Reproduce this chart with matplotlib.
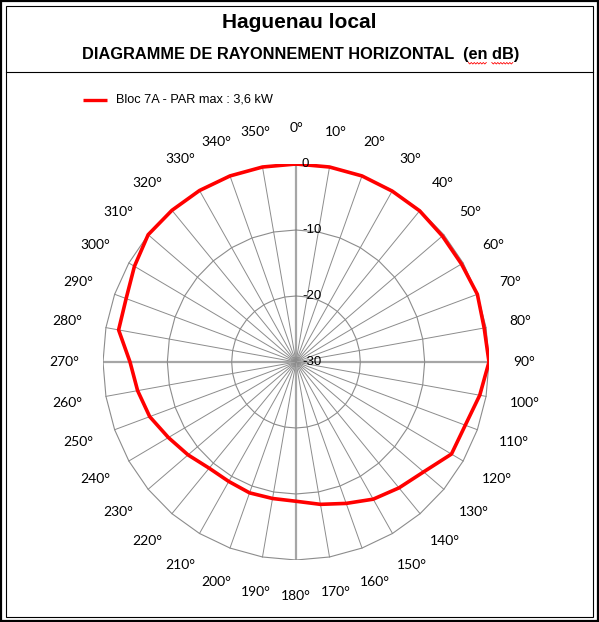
import numpy as np
import matplotlib
matplotlib.use("Agg")
import matplotlib.pyplot as plt
from matplotlib.patches import Rectangle

title = "Haguenau local"
subtitle = "DIAGRAMME DE RAYONNEMENT HORIZONTAL  (en dB)"
series_name = "Bloc 7A - PAR max : 3,6 kW"

angles = list(range(0, 360, 10))
att_db = [0, 0, 0, -0.1, -0.1, -0.3, -0.3, 0, -0.3,
          0, -1.0, -2.0, -2.1, -4.1, -5.1, -6.0, -7.2, -8.1,
          -8.9, -9.0, -8.9, -9.1, -9.0, -8.1, -7.1, -5.8, -5.0,
          -4.2, -2.0, -1.9, -1.0, 0, 0, 0, 0, 0]
ring_values = [-30, -20, -10, 0]
vmin, vmax = -30, 0

W, H = 599, 622
fig = plt.figure(figsize=(W / 100, H / 100), dpi=100)

# background axes in pixel units for the frame and header
bg = fig.add_axes([0, 0, 1, 1])
bg.set_xlim(0, W)
bg.set_ylim(H, 0)
bg.axis("off")
bg.add_patch(Rectangle((1, 1), W - 2.5, H - 2.5, fill=False, lw=1.6, ec="black"))
bg.add_patch(Rectangle((5.5, 5.5), W - 11.5, H - 11, fill=False, lw=0.8, ec="black"))
bg.plot([5.5, W - 6], [72, 72], color="black", lw=0.8)

t1 = bg.text(W / 2, 23, title, ha="center", va="center", fontsize=15,
             fontweight="bold", family="Liberation Sans")
t2 = bg.text(W / 2 + 1, 55, subtitle, ha="center", va="center", fontsize=11.8,
             fontweight="bold", family="Liberation Sans")

# legend
bg.plot([83, 107], [100, 100], color="red", lw=2.4, solid_capstyle="butt")
bg.text(116, 100, series_name, ha="left", va="center", fontsize=9.2,
        family="Liberation Sans")

# radar chart axes: center (296, 362), half sizes 193 x 198 px
cx, cy, rx, ry = 296, 362, 193, 198
ax = fig.add_axes([(cx - rx) / W, (H - cy - ry) / H, 2 * rx / W, 2 * ry / H])
ax.set_xlim(-1, 1)
ax.set_ylim(-1, 1)
ax.axis("off")

theta = np.deg2rad(angles)
s, c = np.sin(theta), np.cos(theta)


def norm(v):
    return (np.asarray(v, dtype=float) - vmin) / (vmax - vmin)


def closed(a):
    return np.append(a, a[0])


# spokes
for a, si, ci in zip(angles, s, c):
    if a % 90 == 0:
        ax.plot([0, si], [0, ci], color="#a6a6a6", lw=1.6, zorder=1)
    else:
        ax.plot([0, si], [0, ci], color="#8c8c8c", lw=0.7, zorder=1)

# rings (polygons)
for v in ring_values[1:]:
    r = norm(v)
    ax.plot(closed(r * s), closed(r * c), color="#8c8c8c", lw=0.8, zorder=1)

# data series
r = norm(att_db)
ax.plot(closed(r * s), closed(r * c), color="red", lw=2.6, zorder=3,
        solid_joinstyle="round")

# value labels on the 0 deg spoke
for v in ring_values:
    ax.text(6 / rx, norm(v), f"{v}", ha="left", va="center", fontsize=9.5,
            family="Liberation Sans", zorder=4)

# angle labels
angle_texts = []
for a in angles:
    angle_texts.append(ax.text(0, 0, f"{a}°", ha="center", va="center",
                               fontsize=10, family="Lato", clip_on=False))

fig.canvas.draw()
renderer = fig.canvas.get_renderer()

# Excel-like placement: the near edge of each label sits ~217 px out horizontally
for t, si, ci in zip(angle_texts, s, c):
    w = t.get_window_extent(renderer).width
    x_px = (217 + w / 2) * si
    y_px = 234 * ci
    t.set_position((x_px / rx, y_px / ry))

# spell-check style wavy underline under "en" and "dB"
bb = t2.get_window_extent(renderer)
prop = t2.get_fontproperties()


def width_px(txt):
    w, _, _ = renderer.get_text_width_height_descent(txt, prop, ismath=False)
    return w


head = subtitle.index("(en") + 1
for word, start in (("en", head), ("dB", head + 3)):
    x0 = bb.x0 + width_px(subtitle[:start])
    x1 = x0 + width_px(word)
    xs = np.arange(x0, x1 + 0.1, 1.5)
    ys = 62.5 + np.where(np.arange(len(xs)) % 2 == 0, 0, 1.5)
    bg.plot(xs, ys, color="red", lw=0.6)

fig.savefig("out.png", dpi=100)
